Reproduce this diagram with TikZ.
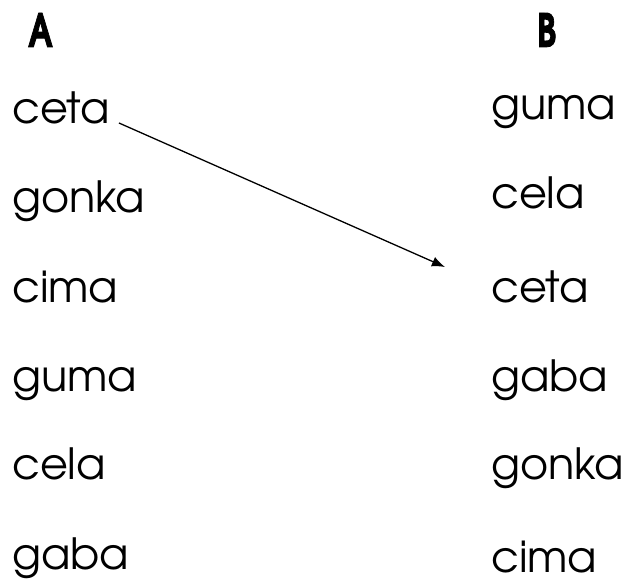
\documentclass[tikz,border=0pt]{standalone}
\usepackage{fontspec}
\setmainfont{TeX Gyre Adventor}
\newfontfamily\headfont{TeX Gyre Adventor}[BoldFeatures={FakeBold=2}]
\usepackage{tikz}
\usetikzlibrary{positioning,arrows.meta}
\tikzset{
  header/.style={anchor=base west, inner sep=0pt, font=\fontsize{46}{50}\selectfont\headfont\bfseries},
  word/.style={anchor=base west, inner sep=0pt, font=\fontsize{43}{47}\selectfont},
  matcharrow/.style={-{Latex[length=4.6mm, width=3.6mm]}, line width=1.3pt}
}

\begin{document}
\begin{tikzpicture}[x=1pt, y=-1pt]
      \useasboundingbox (0,0) rectangle (626,586);
      \node[header] (ha) at (28,47) {\scalebox{0.72}[1]{A}};
      \node[header] (hb) at (537,47) {\scalebox{0.72}[1]{B}};
      % left column
      \node[word] (a1) at (12,123) {ceta};
      \node[word] (a2) at (12,212) {gonka};
      \node[word] (a3) at (12,302) {cima};
      \node[word] (a4) at (12,391) {guma};
      \node[word] (a5) at (12,479) {cela};
      \node[word] (a6) at (12,569) {gaba};
      % right column
      \node[word] (b1) at (491,119) {guma};
      \node[word] (b2) at (491,208) {cela};
      \node[word] (b3) at (491,302) {ceta};
      \node[word] (b4) at (491,391) {gaba};
      \node[word] (b5) at (491,479) {gonka};
      \node[word] (b6) at (491,572) {cima};
      \draw[matcharrow] ([xshift=9pt]a1.base east) -- ([shift={(-46,-35)}]b3.base west);
    \end{tikzpicture}
\end{document}
